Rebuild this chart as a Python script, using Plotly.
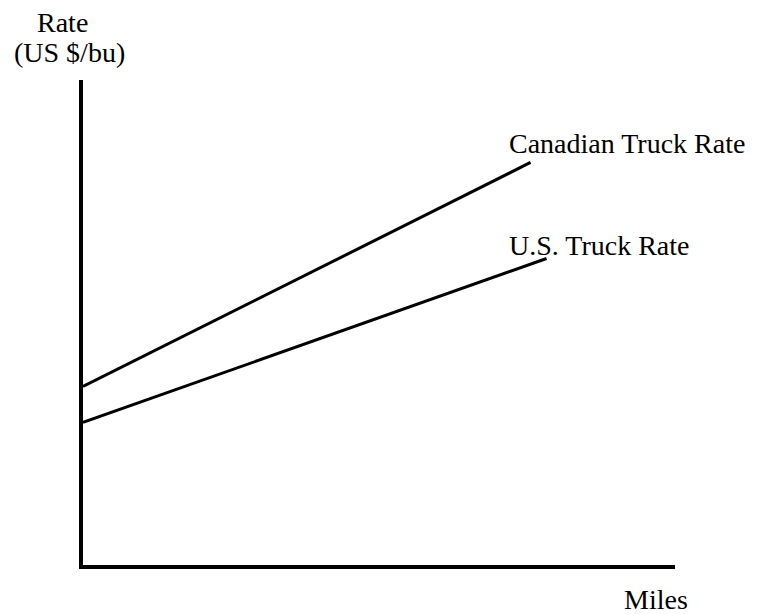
import plotly.graph_objects as go

# Conceptual chart: truck rate vs. distance (no numeric scale in the original)
miles = [0, 75.6]
canadian_rate = [36.8, 83.0]
miles_us = [0, 78.3]
us_rate = [29.4, 63.2]

series_names = ["Canadian Truck Rate", "U.S. Truck Rate"]
x_title = "Miles"
y_title_1 = "Rate"
y_title_2 = "(US $/bu)"

# Screen geometry (page body has an 8px default margin)
SW, SH = 757, 614
OFF = 8
L, R, T, B = 83, 675, 80, 565
FONT = "Liberation Serif, Times New Roman, serif"
FS = 28


def px(x):
    return (x - L) / (R - L)


def py(y):
    return (B - y) / (B - T)


fig = go.Figure()
fig.add_trace(go.Scatter(x=miles, y=canadian_rate, mode="lines",
                         line=dict(color="black", width=3), name=series_names[0]))
fig.add_trace(go.Scatter(x=miles_us, y=us_rate, mode="lines",
                         line=dict(color="black", width=3), name=series_names[1]))

ann = [
    (y_title_1, 62, 23, "center"),
    (y_title_2, 69.5, 53, "center"),
    (series_names[0], 507, 143, "left"),
    (series_names[1], 507, 245, "left"),
    (x_title, 622, 599, "left"),
]
for text, x, y, anchor in ann:
    fig.add_annotation(text=text, x=px(x), y=py(y), xref="paper", yref="paper",
                       xanchor=anchor, yanchor="middle", showarrow=False,
                       font=dict(family=FONT, size=FS, color="black"))

fig.update_layout(
    width=SW - OFF, height=SH - OFF,
    margin=dict(l=L - OFF, r=SW - R, t=T - OFF, b=SH - B, pad=0),
    paper_bgcolor="white", plot_bgcolor="white",
    showlegend=False,
    xaxis=dict(range=[0, 100], showline=True, linecolor="black", linewidth=4,
               showgrid=False, zeroline=False, showticklabels=False, ticks=""),
    yaxis=dict(range=[0, 100], showline=True, linecolor="black", linewidth=4,
               showgrid=False, zeroline=False, showticklabels=False, ticks=""),
)

fig.write_html("out.html")
